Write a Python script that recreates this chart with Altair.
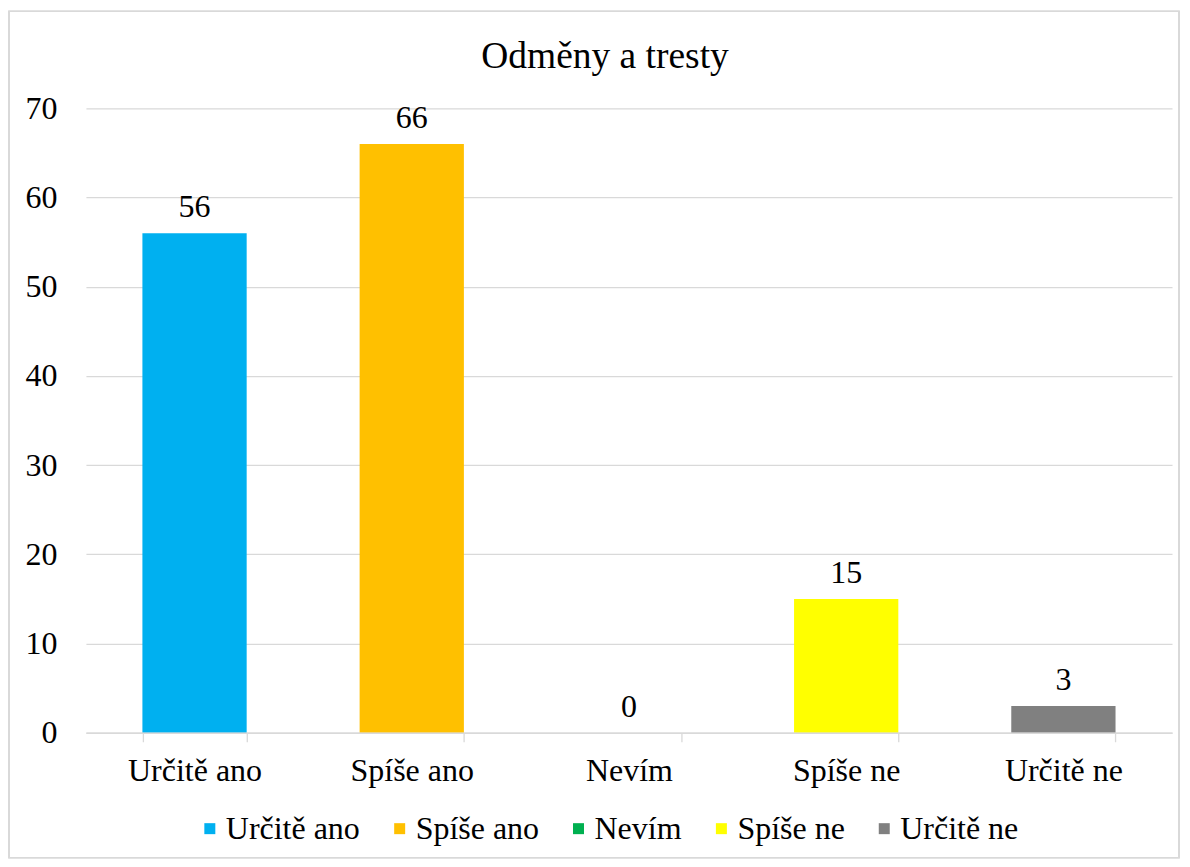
import altair as alt
import pandas as pd

categories = ["Určitě ano", "Spíše ano", "Nevím", "Spíše ne", "Určitě ne"]
values = [56, 66, 0, 15, 3]
colors = ["#00B0F0", "#FFC000", "#00B050", "#FFFF00", "#808080"]
y_ticks = [0, 10, 20, 30, 40, 50, 60, 70]
title_text = "Odměny a tresty"

FONT = "'Liberation Serif', 'Times New Roman', Tinos, 'Nimbus Roman', serif"
W, H = 1087, 625

df = pd.DataFrame({"kategorie": categories, "pocet": values})

x_enc = alt.X(
    "kategorie:N",
    sort=categories,
    title=None,
    scale=alt.Scale(paddingInner=0.52, paddingOuter=0.26),
    axis=alt.Axis(
        labelAngle=0,
        labelFont=FONT,
        labelFontSize=32,
        labelColor="#000000",
        labelPadding=14,
        domainColor="#d9d9d9",
        domainWidth=1.3,
        tickColor="#d9d9d9",
        tickWidth=1.3,
        tickSize=9,
        tickBand="extent",
        grid=False,
        zindex=1,
    ),
)

y_enc = alt.Y(
    "pocet:Q",
    title=None,
    scale=alt.Scale(domain=[0, 70], nice=False),
    axis=alt.Axis(
        values=y_ticks,
        labelFont=FONT,
        labelFontSize=32,
        labelColor="#000000",
        labelPadding=29,
        domain=False,
        ticks=False,
        grid=True,
        gridColor="#d9d9d9",
        gridWidth=1.3,
    ),
)

bars = alt.Chart(df).mark_bar(strokeWidth=0).encode(
    x=x_enc,
    y=y_enc,
    color=alt.Color(
        "kategorie:N",
        sort=categories,
        scale=alt.Scale(domain=categories, range=colors),
        legend=alt.Legend(
            title=None,
            orient="none",
            direction="horizontal",
            legendX=108,
            legendY=705,
            symbolType="square",
            symbolSize=121,
            symbolStrokeWidth=0,
            labelFont=FONT,
            labelFontSize=32,
            labelColor="#000000",
            labelOffset=0,
            columnPadding=23,
        ),
    ),
)

labels = alt.Chart(df).mark_text(
    font=FONT, fontSize=32, color="#000000", baseline="alphabetic", dy=-16
).encode(
    x=alt.X("kategorie:N", sort=categories),
    y=alt.Y("pocet:Q"),
    text=alt.Text("pocet:Q"),
)

border = alt.Chart(df).mark_rect(
    fill=None, stroke="#d9d9d9", strokeWidth=1.3
).encode(
    x=alt.value(-77), x2=alt.value(1094), y=alt.value(-97), y2=alt.value(750)
)

chart = alt.layer(border, bars, labels).properties(
    width=W,
    height=H,
    title=alt.TitleParams(
        text=title_text,
        font=FONT,
        fontSize=37.5,
        fontWeight="normal",
        color="#000000",
        anchor="middle",
        baseline="alphabetic",
        dx=-24,
        offset=-95,
    ),
    padding={"left": 78, "top": 100, "right": 10, "bottom": 130},
    autosize=alt.AutoSizeParams(type="none"),
    background="white",
).configure_view(strokeWidth=0)

chart.save("out.html", embed_options={"renderer": "svg", "actions": False})
